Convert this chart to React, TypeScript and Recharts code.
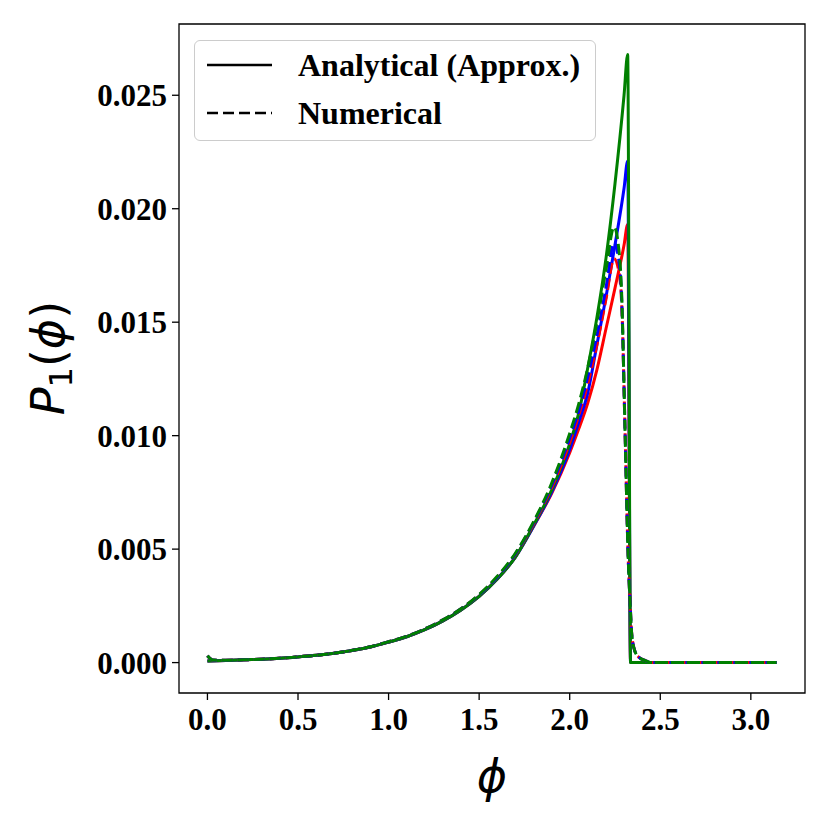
import React from 'react';
import { LineChart, Line, XAxis, YAxis, ReferenceArea, Legend, Label } from 'recharts';

// phi grid for the analytical (approx.) curves
const phiAnalytical = [
  0, 0.1, 0.2, 0.3, 0.4, 0.5, 0.6, 0.7, 0.8, 0.9, 1.0, 1.1, 1.2, 1.3, 1.4, 1.5, 1.6, 1.7, 1.8,
  1.9, 2.0, 2.05, 2.1, 2.15, 2.2, 2.25, 2.3, 2.32, 2.336, 2.4, 3.1416,
];
const redAnalytical = [
  0.00007, 0.00009, 0.00012, 0.00015, 0.00019, 0.00025, 0.00032, 0.00041, 0.00053, 0.00069, 0.0009,
  0.00114, 0.00145, 0.00184, 0.00232, 0.00292, 0.00368, 0.00465, 0.006,
  0.00745, 0.00925, 0.0103, 0.01145, 0.0129, 0.0147, 0.0165, 0.0184, 0.0193, 0, 0, 0,
];
const blueAnalytical = [
  0.00007, 0.00009, 0.00012, 0.00015, 0.00019, 0.00025, 0.00032, 0.00041, 0.00053, 0.00069, 0.0009,
  0.00114, 0.00145, 0.00184, 0.00232, 0.00292, 0.00368, 0.00465, 0.006,
  0.0075, 0.0094, 0.0106, 0.0119, 0.014, 0.0161, 0.0184, 0.0209, 0.0221, 0, 0, 0,
];
const greenAnalytical = [
  0.00007, 0.00009, 0.00012, 0.00015, 0.00019, 0.00025, 0.00032, 0.00041, 0.00053, 0.00069, 0.0009,
  0.00114, 0.00145, 0.00184, 0.00232, 0.00292, 0.00368, 0.00465, 0.00605,
  0.0076, 0.00965, 0.011, 0.013, 0.0152, 0.0178, 0.0211, 0.025, 0.0268, 0, 0, 0,
];

// phi grid for the numerical curves
const phiNumerical = [
  0, 0.03, 0.1, 0.2, 0.3, 0.4, 0.5, 0.6, 0.7, 0.8, 0.9, 1.0, 1.1, 1.2, 1.3, 1.4, 1.5, 1.6, 1.7, 1.8,
  1.9, 2.0, 2.05, 2.1, 2.15, 2.2, 2.245, 2.27, 2.287, 2.305, 2.323, 2.333, 2.343, 2.36, 2.38, 2.42,
  2.46, 3.1416,
];
const redNumerical = [
  0.0003, 0.00011, 0.0001, 0.00012, 0.00015, 0.00019, 0.00025, 0.00032, 0.00041, 0.00054, 0.0007,
  0.00092, 0.00116, 0.00148, 0.00188, 0.00237, 0.00298, 0.00376, 0.00476, 0.0061,
  0.0077, 0.0097, 0.0109, 0.0123, 0.014, 0.016, 0.0178, 0.0173, 0.0158, 0.0104, 0.0046, 0.0027,
  0.0012, 0.0005, 0.00025, 0.00008, 0, 0,
];
const blueNumerical = [
  0.0003, 0.00011, 0.0001, 0.00012, 0.00015, 0.00019, 0.00025, 0.00032, 0.00041, 0.00054, 0.0007,
  0.00092, 0.00116, 0.00148, 0.00188, 0.00237, 0.00298, 0.00376, 0.00478, 0.00615,
  0.0078, 0.0099, 0.0111, 0.0126, 0.0144, 0.0165, 0.0185, 0.0178, 0.016, 0.0104, 0.0046, 0.0027,
  0.0012, 0.0005, 0.00025, 0.00008, 0, 0,
];
const greenNumerical = [
  0.0003, 0.00011, 0.0001, 0.00012, 0.00015, 0.00019, 0.00025, 0.00032, 0.00041, 0.00054, 0.0007,
  0.00092, 0.00116, 0.00148, 0.00188, 0.00237, 0.003, 0.0038, 0.00482, 0.0062,
  0.0079, 0.0101, 0.0114, 0.013, 0.015, 0.0173, 0.0192, 0.0183, 0.0162, 0.0104, 0.0046, 0.0027,
  0.0012, 0.0005, 0.00025, 0.00008, 0, 0,
];

const xTicks = [0, 0.5, 1.0, 1.5, 2.0, 2.5, 3.0];
const yTicks = [0, 0.005, 0.01, 0.015, 0.02, 0.025];

const zip = (xs: number[], ys: number[]) => xs.map((x, i) => ({ x, y: ys[i] }));

const series = [
  { name: 'red-a', data: zip(phiAnalytical, redAnalytical), color: '#ff0000', dash: undefined },
  { name: 'blue-a', data: zip(phiAnalytical, blueAnalytical), color: '#0000ff', dash: undefined },
  { name: 'green-a', data: zip(phiAnalytical, greenAnalytical), color: '#008000', dash: undefined },
  { name: 'red-n', data: zip(phiNumerical, redNumerical), color: '#ff0000', dash: '11 5' },
  { name: 'blue-n', data: zip(phiNumerical, blueNumerical), color: '#0000ff', dash: '11 5' },
  { name: 'green-n', data: zip(phiNumerical, greenNumerical), color: '#008000', dash: '11 5' },
];

const tickFont = {
  fontFamily: '"Liberation Serif", "Times New Roman", serif',
  fontWeight: 'bold',
  fontSize: 31,
  fill: '#000',
};

const LegendBox = () => (
  <div
    style={{
      width: 400,
      height: 99,
      background: 'rgba(255,255,255,0.8)',
      border: '1.5px solid #cccccc',
      borderRadius: 6,
      boxSizing: 'content-box',
      fontFamily: '"Liberation Serif", "Times New Roman", serif',
      fontWeight: 'bold',
      fontSize: 32,
      color: '#000',
    }}
  >
    {[
      { label: 'Analytical (Approx.)', dash: undefined },
      { label: 'Numerical', dash: '11 5' },
    ].map((row) => (
      <div key={row.label} style={{ display: 'flex', alignItems: 'center', height: 48 }}>
        <svg width={65} height={6} style={{ marginLeft: 12, marginRight: 26 }}>
          <line x1={0} y1={3} x2={65} y2={3} stroke="#000" strokeWidth={2.7} strokeDasharray={row.dash} />
        </svg>
        <span>{row.label}</span>
      </div>
    ))}
  </div>
);

const App = () => {
  return (
    <div style={{ position: 'absolute', left: 0, top: 0, width: 830, height: 830, background: '#fff' }}>
      <LineChart width={830} height={830} margin={{ top: 24, right: 25, bottom: 77, left: 79 }}>
        <XAxis
          dataKey="x"
          type="number"
          domain={[-0.157, 3.299]}
          ticks={xTicks}
          allowDataOverflow
          height={60}
          axisLine={false}
          tickLine={{ stroke: '#000', strokeWidth: 1.3 }}
          tickSize={7}
          tickMargin={8}
          tick={tickFont}
          tickFormatter={(v: number) => v.toFixed(1)}
        >
          <Label
            content={() => (
              <text
                x={492}
                y={792}
                textAnchor="middle"
                fontFamily='"DejaVu Sans", sans-serif'
                fontStyle="italic"
                fontSize={46}
                fill="#000"
              >
                ϕ
              </text>
            )}
          />
        </XAxis>
        <YAxis
          type="number"
          domain={[-0.00134, 0.02814]}
          ticks={yTicks}
          allowDataOverflow
          width={100}
          axisLine={false}
          tickLine={{ stroke: '#000', strokeWidth: 1.3 }}
          tickSize={7}
          tickMargin={5}
          tick={tickFont}
          tickFormatter={(v: number) => v.toFixed(3)}
        >
          <Label
            content={() => (
              <text
                x={0}
                y={0}
                transform="translate(64,358) rotate(-90)"
                textAnchor="middle"
                fontFamily='"DejaVu Sans", sans-serif'
                fontSize={46}
                fill="#000"
              >
                <tspan fontStyle="italic">P</tspan>
                <tspan fontSize={32} dy={8}>1</tspan>
                <tspan dy={-8}>(</tspan>
                <tspan fontStyle="italic">ϕ</tspan>
                <tspan>)</tspan>
              </text>
            )}
          />
        </YAxis>
        {series.map((s) => (
          <Line
            key={s.name}
            data={s.data}
            dataKey="y"
            type="monotone"
            stroke={s.color}
            strokeWidth={3}
            strokeDasharray={s.dash}
            dot={false}
            activeDot={false}
            isAnimationActive={false}
          />
        ))}
        <ReferenceArea
          x1={-0.157}
          x2={3.299}
          y1={-0.00134}
          y2={0.02814}
          fill="none"
          fillOpacity={0}
          stroke="#000"
          strokeWidth={1.3}
          ifOverflow="visible"
        />
        <Legend
          layout="horizontal"
          verticalAlign="middle"
          align="center"
          content={() => <LegendBox />}
          wrapperStyle={{ left: 194, top: 40, width: 'auto', height: 'auto' }}
        />
      </LineChart>
    </div>
  );
};

export default App;
